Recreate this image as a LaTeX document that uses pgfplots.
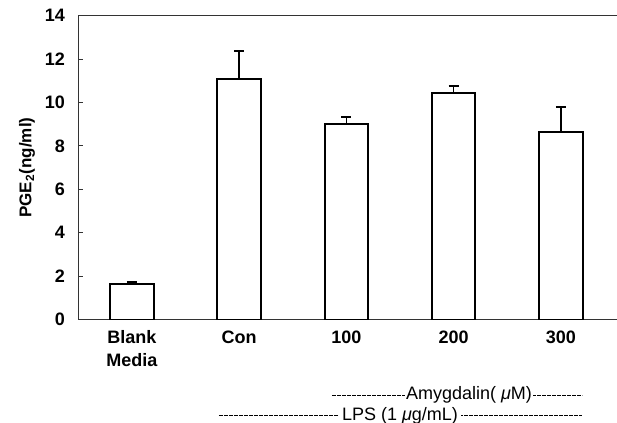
\documentclass[border=0pt]{standalone}
\usepackage{pgfplots}
\pgfplotsset{compat=1.18}
\usepackage{fontspec}
\setmainfont{Liberation Sans}

\begin{document}
\begin{tikzpicture}
\begin{axis}[
    at={(0,0)}, anchor=south west,
    scale only axis, width=269pt, height=151.9pt,
    xmin=-0.493, xmax=4.523, ymin=0, ymax=14,
    clip=false,
    axis line style={black!80, line width=0.5pt},
    xtick={0,1,2,3,4},
    xticklabels={{Blank\\Media},Con,100,200,300},
    xtick style={draw=none},
    minor xtick={0.5,1.5,2.5,3.5},
    minor tick length=2.5pt,
    minor x tick style={black!80, line width=0.5pt},
    xtick pos=bottom, ytick pos=left,
    ytick={0,2,...,14},
    tick align=inside,
    major tick length=2pt,
    ytick style={black!80, line width=0.5pt},
    xticklabel style={align=center, font=\fontsize{9}{11.5}\selectfont\bfseries, yshift=-2pt},
    yticklabel style={font=\fontsize{9}{11}\selectfont\bfseries, xshift=-3.5pt},
    /pgf/number format/assume math mode=true,
    ylabel={PGE\textsubscript{2}(ng/ml)},
    ylabel style={at={(axis description cs:-0.0967,0.5)}, anchor=center, font=\fontsize{8.5}{10}\selectfont\bfseries},
]
\addplot[ybar, bar width=21.75pt, draw=black, fill=white, line width=0.9pt,
    error bars/.cd, y dir=plus, y explicit,
    error bar style={line width=0.8pt},
    error mark options={line width=1pt, mark size=2.5pt, rotate=90}]
    coordinates {
    (0,1.64) +- (0,0.10)
    (1,11.10) +- (0,1.26)
    (2,9.01) +- (0,0.31)
    (3,10.44) +- (0,0.31)
    (4,8.65) +- (0,1.14)
};
% group annotations under the categories
\draw[line width=0.35pt, dash pattern=on 2pt off 0.5pt] (axis cs:1.866,-3.48) -- (axis cs:4.197,-3.48);
\node[fill=white, inner xsep=0.5pt, inner ysep=1pt, font=\fontsize{9}{10}\selectfont] at (axis cs:3.143,-3.48) {Amygdalin( \textit{μ}M)};
\draw[line width=0.35pt, dash pattern=on 2pt off 0.5pt] (axis cs:0.812,-4.43) -- (axis cs:4.197,-4.43);
\node[fill=white, inner xsep=1.5pt, inner ysep=1pt, font=\fontsize{9}{10}\selectfont] at (axis cs:2.50,-4.43) {LPS (1 \textit{μ}g/mL)};
\end{axis}
\pgfresetboundingbox
\path (-39.5pt,-51.75pt) rectangle (269pt,159.75pt);
\end{tikzpicture}
\end{document}
